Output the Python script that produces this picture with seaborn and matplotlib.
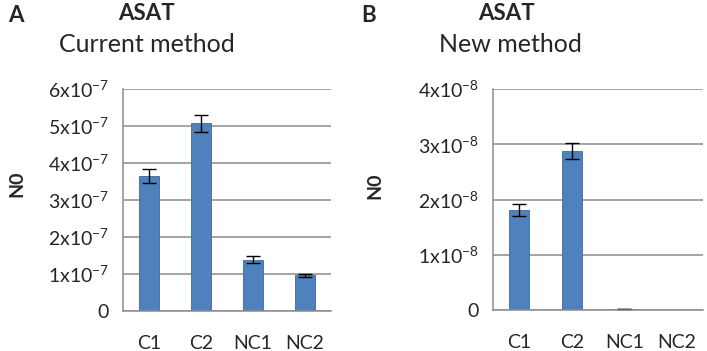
import pandas as pd
import numpy as np
import matplotlib
matplotlib.use('Agg')
import matplotlib.pyplot as plt
import seaborn as sns

# data
categories = ['C1', 'C2', 'NC1', 'NC2']
current_vals = [3.66e-7, 5.08e-7, 1.39e-7, 0.96e-7]
current_err = [0.19e-7, 0.23e-7, 0.09e-7, 0.04e-7]
new_vals = [1.81e-8, 2.88e-8, 0.02e-8, 0.0]
new_err = [0.10e-8, 0.15e-8, 0.005e-8, 0.0]

current_ticks = [0, 1e-7, 2e-7, 3e-7, 4e-7, 5e-7, 6e-7]
current_labels = ['0'] + [r'$\mathrm{%dx10^{-7}}$' % i for i in range(1, 7)]
new_ticks = [0, 1e-8, 2e-8, 3e-8, 4e-8]
new_labels = ['0'] + [r'$\mathrm{%dx10^{-8}}$' % i for i in range(1, 5)]

sns.set_style('white')
plt.rcParams['font.family'] = ['Lato', 'DejaVu Sans']
plt.rcParams['mathtext.fontset'] = 'custom'
plt.rcParams['mathtext.rm'] = 'Lato'
plt.rcParams['mathtext.it'] = 'Lato:italic'
plt.rcParams['mathtext.bf'] = 'Lato:bold'

W, H = 707, 351
fig = plt.figure(figsize=(W / 100, H / 100), dpi=100)

bar_color = '#4F81BD'
grid_color = '#8C8C8C'
text_color = '#262626'


def draw_panel(rect, vals, errs, ticks, labels):
    ax = fig.add_axes(rect)
    df = pd.DataFrame({'cat': categories, 'val': vals})
    sns.barplot(data=df, x='cat', y='val', color=bar_color, width=0.38,
                saturation=1, edgecolor='#3C6A9E', linewidth=0.6, ax=ax)
    x = np.arange(len(categories))
    v = np.array(vals)
    e = np.array(errs)
    keep = e > 0
    ax.errorbar(x[keep], v[keep], yerr=e[keep], fmt='none',
                ecolor='black', elinewidth=1.0, capsize=5, capthick=1.0)
    ax.set_xlim(-0.5, 3.5)
    ax.set_ylim(ticks[0], ticks[-1])
    ax.set_yticks(ticks)
    ax.set_yticklabels(labels, fontsize=14, color=text_color)
    ax.set_xticks(x)
    ax.set_xticklabels(categories, fontsize=14, color=text_color)
    ax.set_xticks(np.arange(-0.5, 4, 1), minor=True)
    ax.tick_params(axis='x', which='major', length=0, pad=17)
    ax.tick_params(axis='x', which='minor', length=7, width=1.0, color=grid_color, direction='out')
    ax.tick_params(axis='y', length=7, width=1.0, color=grid_color, direction='out', pad=3)
    ax.yaxis.grid(True, color=grid_color, linewidth=1.1)
    ax.set_axisbelow(True)
    ax.set_xlabel('')
    ax.set_ylabel('')
    for s in ['top', 'right']:
        ax.spines[s].set_visible(False)
    for s in ['left', 'bottom']:
        ax.spines[s].set_color(grid_color)
        ax.spines[s].set_linewidth(1.1)
    return ax


draw_panel([123 / W, 1 - 311 / H, 208 / W, 222 / H],
           current_vals, current_err, current_ticks, current_labels)
draw_panel([493 / W, 1 - 310 / H, 210 / W, 221 / H],
           new_vals, new_err, new_ticks, new_labels)

# panel letters, titles and y labels
fig.text(8 / W, 1 - 16 / H, 'A', fontsize=16, fontweight='bold', va='center', ha='left')
fig.text(147 / W, 1 - 13 / H, 'ASAT', fontsize=16, fontweight='bold', va='center', ha='center')
fig.text(147 / W, 1 - 45 / H, 'Current method', fontsize=18, va='center', ha='center', color=text_color)
fig.text(17 / W, 1 - 184 / H, 'N0', fontsize=14, fontweight='bold', rotation=90, va='center', ha='center')

fig.text(361 / W, 1 - 16 / H, 'B', fontsize=16, fontweight='bold', va='center', ha='left')
fig.text(507 / W, 1 - 13 / H, 'ASAT', fontsize=16, fontweight='bold', va='center', ha='center')
fig.text(510 / W, 1 - 45 / H, 'New method', fontsize=18, va='center', ha='center', color=text_color)
fig.text(375 / W, 1 - 186 / H, 'N0', fontsize=14, fontweight='bold', rotation=90, va='center', ha='center')

fig.savefig('out.png', dpi=100)
